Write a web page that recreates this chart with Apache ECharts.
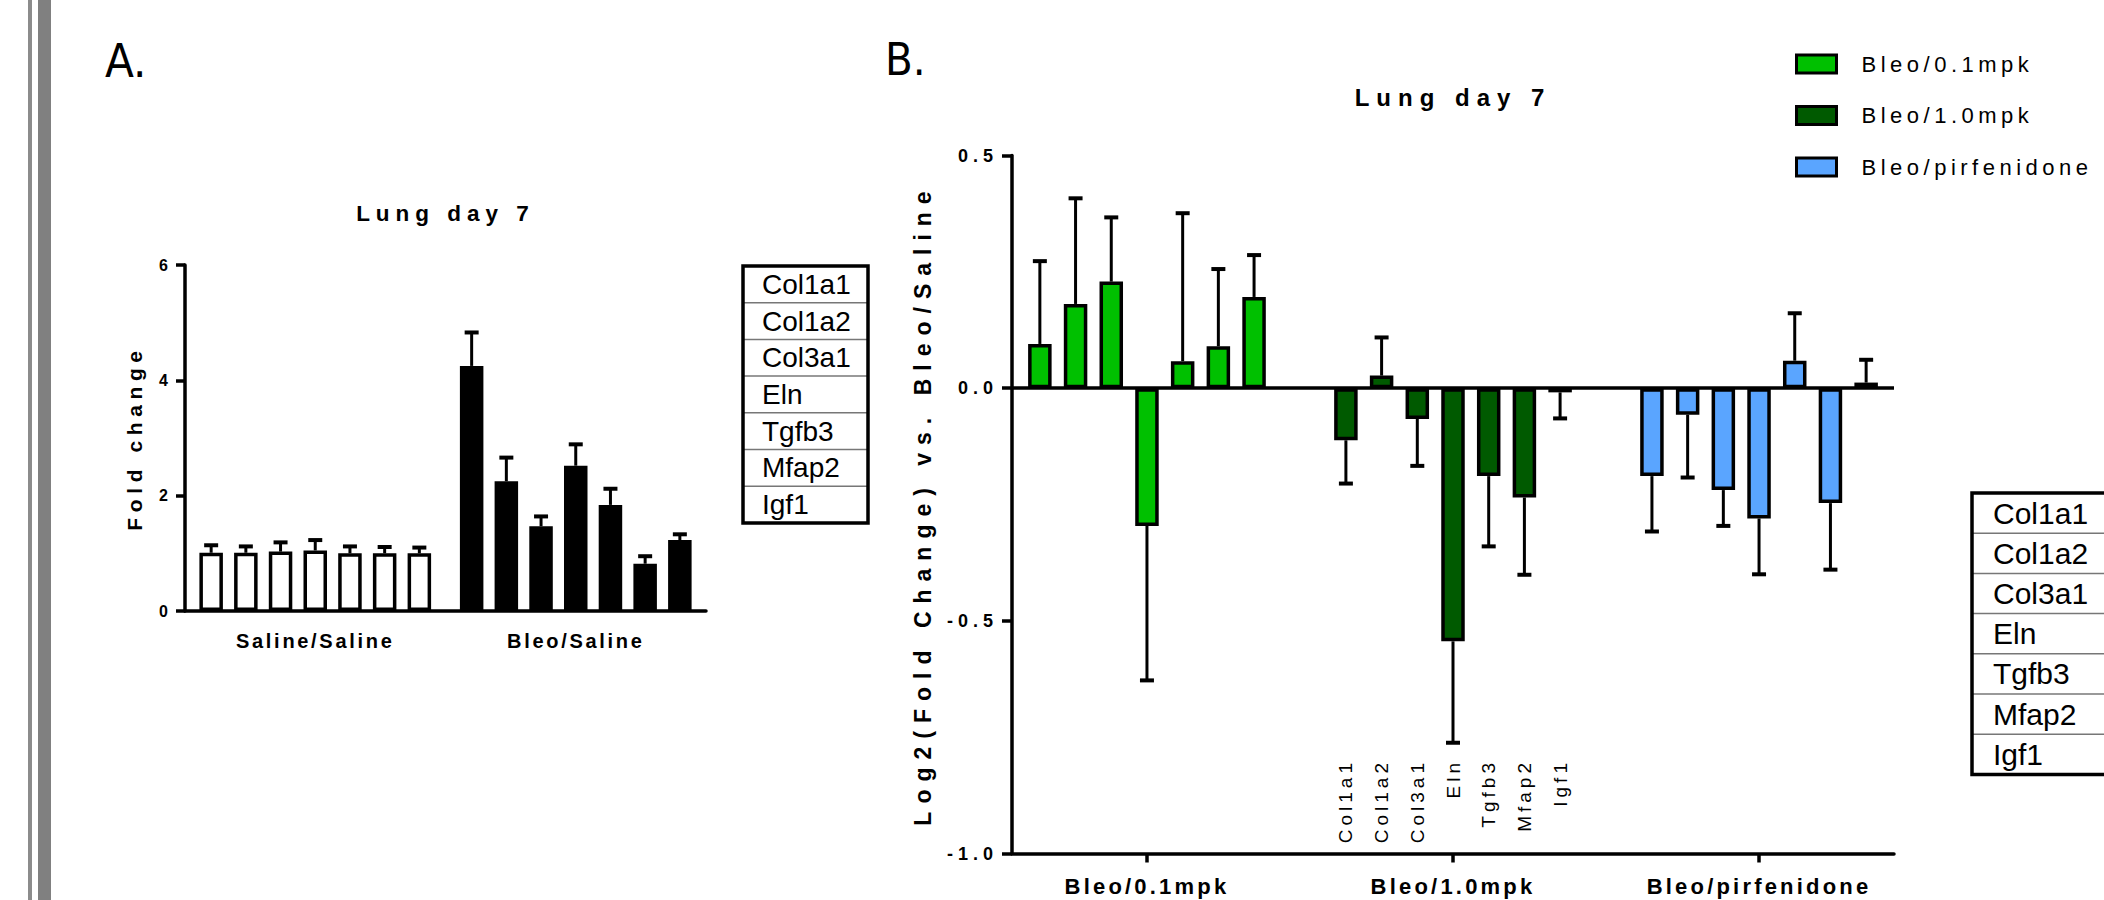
<!DOCTYPE html>
<html><head><meta charset="utf-8">
<script src="https://cdn.jsdelivr.net/npm/echarts@6/dist/echarts.min.js"></script>
<style>
html,body{margin:0;padding:0;background:#fff;}
#chart{width:2104px;height:900px;}
#chart text[style*="22.5px"][style*="bold"]{letter-spacing:6px}
#chart text[style*="24px"][style*="bold"]{letter-spacing:7px}
#chart text[style*="21px"][style*="bold"]{letter-spacing:5.6px}
#chart text[style*="20px"][style*="bold"]{letter-spacing:2.7px}
#chart text[style*="22px"][style*="bold"]{letter-spacing:3.2px}
#chart text[style*="23px"][style*="bold"]{letter-spacing:8px}
#chart text[style*="18px"][style*="bold"]{letter-spacing:5px}
#chart text[style*="22px"]:not([style*="bold"]){letter-spacing:4.5px}
#chart text[style*="19px"]:not([style*="bold"]){letter-spacing:4px}
</style></head><body><div id="chart"></div>
<script>
// ---------- data ----------
const genes = ['Col1a1', 'Col1a2', 'Col3a1', 'Eln', 'Tgfb3', 'Mfap2', 'Igf1'];

// Panel A
const groupsA = ['Saline/Saline', 'Bleo/Saline'];
const salineMean = [1.01, 1.01, 1.03, 1.05, 1.00, 1.00, 1.00];
const salineErr  = [0.13, 0.11, 0.16, 0.18, 0.12, 0.11, 0.10];
const bleoMean   = [4.25, 2.25, 1.47, 2.52, 1.84, 0.82, 1.23];
const bleoErr    = [0.58, 0.41, 0.17, 0.37, 0.28, 0.13, 0.10];
const ticksA = [0, 2, 4, 6];

// Panel B
const groupsB = ['Bleo/0.1mpk', 'Bleo/1.0mpk', 'Bleo/pirfenidone'];
const mpk01Mean = [0.095, 0.181, 0.229, -0.296, 0.058, 0.090, 0.196];
const mpk01Err  = [0.178, 0.227, 0.138, 0.332, 0.318, 0.166, 0.090];
const mpk10Mean = [-0.112, 0.027, -0.066, -0.544, -0.189, -0.235, -0.009];
const mpk10Err  = [0.093, 0.082, 0.101, 0.218, 0.151, 0.166, 0.056];
const pirfMean  = [-0.189, -0.057, -0.219, -0.280, 0.059, -0.247, 0.012];
const pirfErr   = [0.119, 0.135, 0.077, 0.120, 0.102, 0.143, 0.049];
const ticksB = [-1.0, -0.5, 0.0, 0.5];

// ---------- style / layout ----------
const FONT = 'Liberation Sans';
const NARROW = "'Liberation Sans Narrow', 'DejaVu Sans Condensed', sans-serif";
const colorsB = ['#00C000', '#005A00', '#5AA5FF'];
const meansB = [mpk01Mean, mpk10Mean, pirfMean];
const errsB = [mpk01Err, mpk10Err, pirfErr];
const n = genes.length;

const barWA = 23.5, gapA = 34.7 / 23.5 - 1;
const barWB = 23.5, gapB = 35.7 / 23.5 - 1;
const borderW = 3.5;
const capW = 14;
const padB = 0.059;           // axis padding beyond outer bar groups (category units)
const sepX = [0.5, 1.5];      // separators between groups
const sepTop = 0.52, sepBottom = -0.92;
const geneLabelGroup = 1, geneLabelY = -0.797;

function errRender(barW, gapR) {
  return function (params, api) {
    const x = api.value(0), v = api.value(1), e = api.value(2), j = api.value(3);
    const end = v + (v < 0 ? -e : e);
    const p0 = api.coord([x, v]);
    const p1 = api.coord([x, end]);
    const cx = p0[0] + barW * (1 + gapR) * (j - (n - 1) / 2);
    return {
      type: 'group',
      children: [
        { type: 'line', shape: { x1: cx, y1: p0[1], x2: cx, y2: p1[1] }, style: { stroke: '#000', lineWidth: 3 } },
        { type: 'line', shape: { x1: cx - capW / 2, y1: p1[1], x2: cx + capW / 2, y2: p1[1] }, style: { stroke: '#000', lineWidth: 4 } }
      ]
    };
  };
}

const series = [];

// Panel A bars (one series per gene)
genes.forEach((g, j) => {
  series.push({
    type: 'bar', name: g, xAxisIndex: 0, yAxisIndex: 0,
    barWidth: barWA, barGap: (gapA * 100) + '%',
    itemStyle: { borderColor: '#000', borderWidth: borderW },
    data: [
      { value: salineMean[j], itemStyle: { color: '#ffffff' } },
      { value: bleoMean[j], itemStyle: { color: '#000000' } }
    ]
  });
});
// Panel A error bars
const errDataA = [];
genes.forEach((g, j) => {
  errDataA.push([0, salineMean[j], salineErr[j], j]);
  errDataA.push([1, bleoMean[j], bleoErr[j], j]);
});
series.push({
  type: 'custom', name: 'errA', xAxisIndex: 0, yAxisIndex: 0,
  encode: { x: 0, y: 1 }, renderItem: errRender(barWA, gapA), data: errDataA, z: 3
});

// Panel B bars (one series per gene)
genes.forEach((g, j) => {
  const s = {
    type: 'bar', name: g + ' ', xAxisIndex: 1, yAxisIndex: 1,
    barWidth: barWB, barGap: (gapB * 100) + '%',
    itemStyle: { borderColor: '#000', borderWidth: borderW },
    data: groupsB.map((grp, i) => ({ value: [i, meansB[i][j]], itemStyle: { color: colorsB[i] } }))
  };
  if (j === 0) {
    const dashed = { color: '#a6a6a6', width: 4, type: [13, 15], cap: 'round' };
    s.markLine = {
      silent: true, symbol: 'none', label: { show: false }, animation: false,
      data: [{ yAxis: 0, lineStyle: { color: '#000', width: 3.5, type: 'solid' } }].concat(
        sepX.map(x => [{ coord: [x, sepTop], lineStyle: dashed }, { coord: [x, sepBottom] }])
      )
    };
  }
  series.push(s);
});
// Panel B error bars (one series per treatment group -> legend)
groupsB.forEach((grp, i) => {
  series.push({
    type: 'custom', name: grp, xAxisIndex: 1, yAxisIndex: 1,
    itemStyle: { color: colorsB[i], borderColor: '#000', borderWidth: 3 },
    encode: { x: 0, y: 1 }, renderItem: errRender(barWB, gapB), z: 3,
    data: genes.map((g, j) => [i, meansB[i][j], errsB[i][j], j])
  });
});
// Panel B gene labels under middle group
series.push({
  type: 'custom', name: 'geneLabels', xAxisIndex: 1, yAxisIndex: 1,
  encode: { x: 0, y: 1 },
  data: genes.map((g, j) => [geneLabelGroup, geneLabelY, j]),
  renderItem: function (params, api) {
    const x = api.value(0), y = api.value(1), j = api.value(2);
    const p = api.coord([x, y]);
    const cx = p[0] + barWB * (1 + gapB) * (j - (n - 1) / 2);
    return {
      type: 'text', x: cx, y: p[1], rotation: Math.PI / 2,
      style: { text: genes[j], fontSize: 19, fontFamily: FONT, fill: '#000', align: 'right', verticalAlign: 'middle' }
    };
  }
});

// ---------- tables & decorations ----------
function buildTable(left, top, width, rowH, fontSize, padX) {
  const els = [];
  genes.forEach((g, j) => {
    if (j > 0) {
      els.push({ type: 'line', shape: { x1: left, y1: top + j * rowH, x2: left + width, y2: top + j * rowH },
        style: { stroke: '#777', lineWidth: 1.5 } });
    }
    els.push({ type: 'text', x: left + padX, y: top + (j + 0.5) * rowH,
      style: { text: g, fontSize: fontSize, fontFamily: FONT, fill: '#000', align: 'left', verticalAlign: 'middle' } });
  });
  els.push({ type: 'rect', shape: { x: left, y: top, width: width, height: rowH * n },
    style: { fill: 'none', stroke: '#000', lineWidth: 3.5 } });
  return els;
}

const graphics = [
  { type: 'rect', shape: { x: 28, y: 0, width: 4, height: 900 }, style: { fill: '#8c8c8c' } },
  { type: 'rect', shape: { x: 38, y: 0, width: 13, height: 900 }, style: { fill: '#808080' } },
  { type: 'text', x: 105, y: 37, style: { text: 'A.', font: '47px ' + NARROW, fill: '#000', align: 'left', verticalAlign: 'top' } },
  { type: 'text', x: 885, y: 37, style: { text: 'B.', font: '45px ' + NARROW, fill: '#000', align: 'left', verticalAlign: 'top' } }
].concat(buildTable(743, 266, 125, 36.7, 28, 19))
 .concat(buildTable(1972, 493, 145, 40.2, 30, 21));

const axisLineStyle = { color: '#000', width: 3.5 };

const option = {
  animation: false,
  backgroundColor: '#ffffff',
  textStyle: { fontFamily: FONT, color: '#000' },
  title: [
    { text: 'Lung day 7', left: 445.5, top: 202, padding: 0, textAlign: 'center',
      textStyle: { fontSize: 22.5, fontWeight: 'bold', color: '#000', fontFamily: FONT } },
    { text: 'Lung day 7', left: 1453, top: 85, padding: 0, textAlign: 'center',
      textStyle: { fontSize: 24, fontWeight: 'bold', color: '#000', fontFamily: FONT } }
  ],
  legend: {
    data: groupsB, orient: 'vertical', left: 1790, top: 48,
    itemWidth: 40, itemHeight: 18, itemGap: 29.5, icon: 'rect', selectedMode: false,
    itemStyle: { borderColor: '#000', borderWidth: 3 },
    textStyle: { fontSize: 22, color: '#000', fontFamily: FONT, padding: [0, 0, 0, 20] }
  },
  grid: [
    { left: 185, top: 265, width: 521, height: 346 },
    { left: 1012, top: 155.5, width: 882, height: 698 }
  ],
  xAxis: [
    { type: 'category', gridIndex: 0, data: groupsA,
      axisLine: { lineStyle: axisLineStyle },
      axisTick: { alignWithLabel: true, length: 9, lineStyle: { color: '#000', width: 3.5 } },
      axisLabel: { fontSize: 20, fontWeight: 'bold', color: '#000', margin: 20, fontFamily: FONT } },
    { type: 'value', gridIndex: 1, min: -0.5 + padB, max: groupsB.length - 0.5 - padB,
      splitLine: { show: false },
      axisLine: { onZero: false, lineStyle: axisLineStyle },
      axisTick: { customValues: groupsB.map((g, i) => i), length: 9, lineStyle: { color: '#000', width: 3.5 } },
      axisLabel: { customValues: groupsB.map((g, i) => i), formatter: v => groupsB[Math.round(v)],
        fontSize: 22, fontWeight: 'bold', color: '#000', margin: 22, fontFamily: FONT } }
  ],
  yAxis: [
    { type: 'value', gridIndex: 0, min: ticksA[0], max: ticksA[ticksA.length - 1], interval: ticksA[1] - ticksA[0],
      splitLine: { show: false },
      axisLine: { show: true, lineStyle: axisLineStyle },
      axisTick: { show: true, length: 9, lineStyle: { color: '#000', width: 3.5 } },
      axisLabel: { fontSize: 16, fontWeight: 'bold', color: '#000', margin: 17, fontFamily: FONT },
      name: 'Fold change', nameLocation: 'middle', nameGap: 40,
      nameTextStyle: { fontSize: 21, fontWeight: 'bold', color: '#000', fontFamily: FONT } },
    { type: 'value', gridIndex: 1, min: ticksB[0], max: ticksB[ticksB.length - 1], interval: ticksB[1] - ticksB[0],
      splitLine: { show: false },
      axisLine: { show: true, onZero: false, lineStyle: axisLineStyle },
      axisTick: { show: true, length: 10, lineStyle: { color: '#000', width: 3.5 } },
      axisLabel: { fontSize: 18, fontWeight: 'bold', color: '#000', margin: 14, fontFamily: FONT,
        formatter: v => v.toFixed(1) },
      name: 'Log2(Fold Change) vs. Bleo/Saline', nameLocation: 'middle', nameGap: 78,
      nameTextStyle: { fontSize: 23, fontWeight: 'bold', color: '#000', fontFamily: FONT } }
  ],
  graphic: graphics,
  series: series
};

const chart = echarts.init(document.getElementById('chart'), null, { renderer: 'svg', width: 2104, height: 900 });
chart.setOption(option);
</script>
</body></html>
